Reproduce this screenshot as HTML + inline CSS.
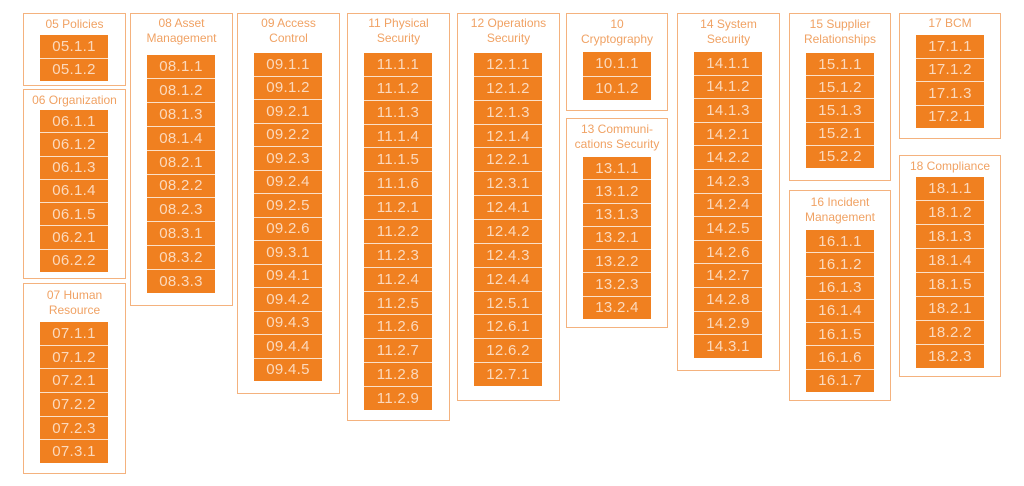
<!DOCTYPE html><html><head><meta charset="utf-8"><style>
body{margin:0;width:1024px;height:486px;background:#fff;position:relative;overflow:hidden;font-family:"Liberation Sans",sans-serif}
.b{position:absolute;border:1.5px solid #f4b27e;box-sizing:border-box}
.t{position:absolute;left:0;right:0;text-align:center;color:#f0a264;font-size:12px;line-height:14.5px}
.c{position:absolute;left:16px;width:68px;display:flex;flex-direction:column}
.c div{flex:1;background:#f08020;color:#fbd9bd;font-size:15px;display:flex;align-items:center;justify-content:center;border-bottom:1px solid #fbe0c8;letter-spacing:0.3px}
.c div:last-child{border-bottom:none}
</style></head><body>
<div class="b" style="left:23px;top:13px;width:103px;height:73px"><div class="t" style="top:3px">05 Policies</div><div class="c" style="top:21px;height:46px"><div>05.1.1</div><div>05.1.2</div></div></div>
<div class="b" style="left:23px;top:89px;width:103px;height:190px"><div class="t" style="top:3px">06 Organization</div><div class="c" style="top:20px;height:162px"><div>06.1.1</div><div>06.1.2</div><div>06.1.3</div><div>06.1.4</div><div>06.1.5</div><div>06.2.1</div><div>06.2.2</div></div></div>
<div class="b" style="left:23px;top:283px;width:103px;height:191px"><div class="t" style="top:4px">07 Human<br>Resource</div><div class="c" style="top:38px;height:141px"><div>07.1.1</div><div>07.1.2</div><div>07.2.1</div><div>07.2.2</div><div>07.2.3</div><div>07.3.1</div></div></div>
<div class="b" style="left:130px;top:13px;width:103px;height:293px"><div class="t" style="top:2px">08 Asset<br>Management</div><div class="c" style="top:41px;height:238px"><div>08.1.1</div><div>08.1.2</div><div>08.1.3</div><div>08.1.4</div><div>08.2.1</div><div>08.2.2</div><div>08.2.3</div><div>08.3.1</div><div>08.3.2</div><div>08.3.3</div></div></div>
<div class="b" style="left:237px;top:13px;width:103px;height:381px"><div class="t" style="top:2px">09 Access<br>Control</div><div class="c" style="top:39px;height:328px"><div>09.1.1</div><div>09.1.2</div><div>09.2.1</div><div>09.2.2</div><div>09.2.3</div><div>09.2.4</div><div>09.2.5</div><div>09.2.6</div><div>09.3.1</div><div>09.4.1</div><div>09.4.2</div><div>09.4.3</div><div>09.4.4</div><div>09.4.5</div></div></div>
<div class="b" style="left:347px;top:13px;width:103px;height:408px"><div class="t" style="top:2px">11 Physical<br>Security</div><div class="c" style="top:39px;height:357px"><div>11.1.1</div><div>11.1.2</div><div>11.1.3</div><div>11.1.4</div><div>11.1.5</div><div>11.1.6</div><div>11.2.1</div><div>11.2.2</div><div>11.2.3</div><div>11.2.4</div><div>11.2.5</div><div>11.2.6</div><div>11.2.7</div><div>11.2.8</div><div>11.2.9</div></div></div>
<div class="b" style="left:457px;top:13px;width:103px;height:388px"><div class="t" style="top:2px">12 Operations<br>Security</div><div class="c" style="top:39px;height:333px"><div>12.1.1</div><div>12.1.2</div><div>12.1.3</div><div>12.1.4</div><div>12.2.1</div><div>12.3.1</div><div>12.4.1</div><div>12.4.2</div><div>12.4.3</div><div>12.4.4</div><div>12.5.1</div><div>12.6.1</div><div>12.6.2</div><div>12.7.1</div></div></div>
<div class="b" style="left:566px;top:13px;width:102px;height:98px"><div class="t" style="top:3px">10<br>Cryptography</div><div class="c" style="top:38px;height:48px"><div>10.1.1</div><div>10.1.2</div></div></div>
<div class="b" style="left:566px;top:118px;width:102px;height:210px"><div class="t" style="top:3px">13 Communi-<br>cations Security</div><div class="c" style="top:38px;height:162px"><div>13.1.1</div><div>13.1.2</div><div>13.1.3</div><div>13.2.1</div><div>13.2.2</div><div>13.2.3</div><div>13.2.4</div></div></div>
<div class="b" style="left:677px;top:13px;width:103px;height:358px"><div class="t" style="top:3px">14 System<br>Security</div><div class="c" style="top:38px;height:306px"><div>14.1.1</div><div>14.1.2</div><div>14.1.3</div><div>14.2.1</div><div>14.2.2</div><div>14.2.3</div><div>14.2.4</div><div>14.2.5</div><div>14.2.6</div><div>14.2.7</div><div>14.2.8</div><div>14.2.9</div><div>14.3.1</div></div></div>
<div class="b" style="left:789px;top:13px;width:102px;height:168px"><div class="t" style="top:3px">15 Supplier<br>Relationships</div><div class="c" style="top:39px;height:115px"><div>15.1.1</div><div>15.1.2</div><div>15.1.3</div><div>15.2.1</div><div>15.2.2</div></div></div>
<div class="b" style="left:789px;top:190px;width:102px;height:211px"><div class="t" style="top:4px">16 Incident<br>Management</div><div class="c" style="top:39px;height:162px"><div>16.1.1</div><div>16.1.2</div><div>16.1.3</div><div>16.1.4</div><div>16.1.5</div><div>16.1.6</div><div>16.1.7</div></div></div>
<div class="b" style="left:899px;top:13px;width:102px;height:126px"><div class="t" style="top:2px">17 BCM</div><div class="c" style="top:21px;height:93px"><div>17.1.1</div><div>17.1.2</div><div>17.1.3</div><div>17.2.1</div></div></div>
<div class="b" style="left:899px;top:155px;width:102px;height:222px"><div class="t" style="top:3px">18 Compliance</div><div class="c" style="top:21px;height:191px"><div>18.1.1</div><div>18.1.2</div><div>18.1.3</div><div>18.1.4</div><div>18.1.5</div><div>18.2.1</div><div>18.2.2</div><div>18.2.3</div></div></div>
</body></html>
